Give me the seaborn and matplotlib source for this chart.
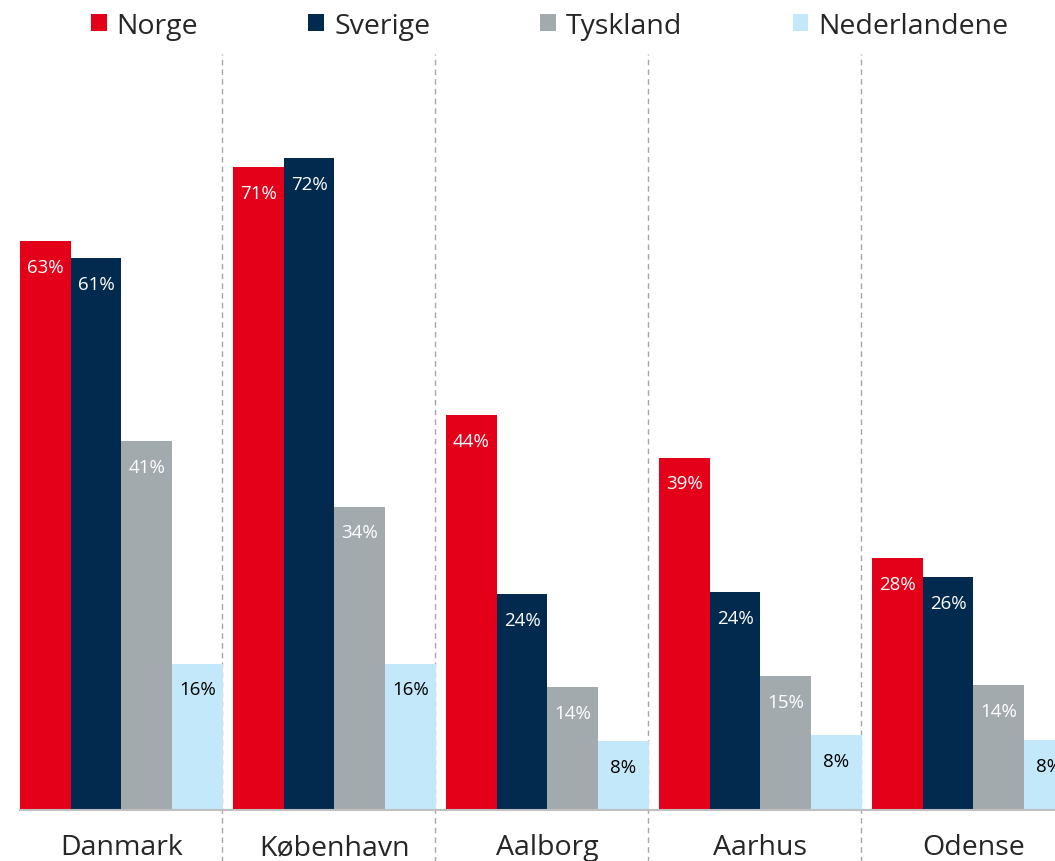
import matplotlib
matplotlib.use('Agg')
import matplotlib.pyplot as plt
import seaborn as sns
import pandas as pd

cities = ['Danmark', 'København', 'Aalborg', 'Aarhus', 'Odense']
countries = ['Norge', 'Sverige', 'Tyskland', 'Nederlandene']
norge = [63.0, 71.2, 43.7, 39.0, 27.9]
sverige = [61.1, 72.2, 23.9, 24.1, 25.8]
tyskland = [40.8, 33.6, 13.6, 14.8, 13.8]
nederlandene = [16.2, 16.2, 7.6, 8.3, 7.7]

colors = ['#E40019', '#012A4E', '#A3AAAE', '#C3E8FA']
label_colors = ['white', 'white', 'white', 'black']

rows = []
for name, vals in zip(countries, [norge, sverige, tyskland, nederlandene]):
    for city, v in zip(cities, vals):
        rows.append([city, name, v])
df = pd.DataFrame(rows, columns=['By', 'Land', 'Andel'])

sns.set_style('white')
plt.rcParams['font.family'] = ['Open Sans', 'DejaVu Sans']

fig = plt.figure(figsize=(10.55, 8.62), dpi=100)
# axes runs a bit past the right edge, like the cropped original
ax = fig.add_axes([20 / 1055, 51 / 862, 1060 / 1055, 756 / 862])

sns.barplot(data=df, x='By', y='Andel', hue='Land', order=cities,
            hue_order=countries, palette=colors, width=0.95, gap=0,
            linewidth=0, saturation=1, ax=ax)

ax.set_xlim(-0.476, 4.5)
ax.set_ylim(0, 83.7)

# value labels inside top of each bar
for cont, tc in zip(ax.containers, label_colors):
    for bar in cont:
        h = bar.get_height()
        ax.annotate(f'{round(h)}%', (bar.get_x() + bar.get_width() / 2, h),
                    xytext=(0, -18.5), textcoords='offset points',
                    ha='center', va='center', color=tc, fontsize=13.5)

# dashed separators between cities
for i in range(4):
    ax.axvline(i + 0.474, ymin=-0.07, ymax=1, color='#A6A6A6', lw=1,
               ls=(0, (4, 3)), clip_on=False, zorder=0)

sns.despine(ax=ax, left=True)
ax.spines['bottom'].set_color('#BFBFBF')
ax.spines['bottom'].set_linewidth(1.5)
ax.set_yticks([])
ax.set_xlabel('')
ax.set_ylabel('')
ax.tick_params(axis='x', length=0, pad=16.5, labelsize=20.5)

handles, labels = ax.get_legend_handles_labels()
ax.get_legend().remove()
fig.legend(handles, labels, ncol=4, loc='center', bbox_to_anchor=(0.521, 0.969),
           frameon=False, fontsize=20.5, handlelength=0.55, handleheight=0.55,
           handletextpad=0.35, columnspacing=3.87)

plt.savefig('out.png', dpi=100)
